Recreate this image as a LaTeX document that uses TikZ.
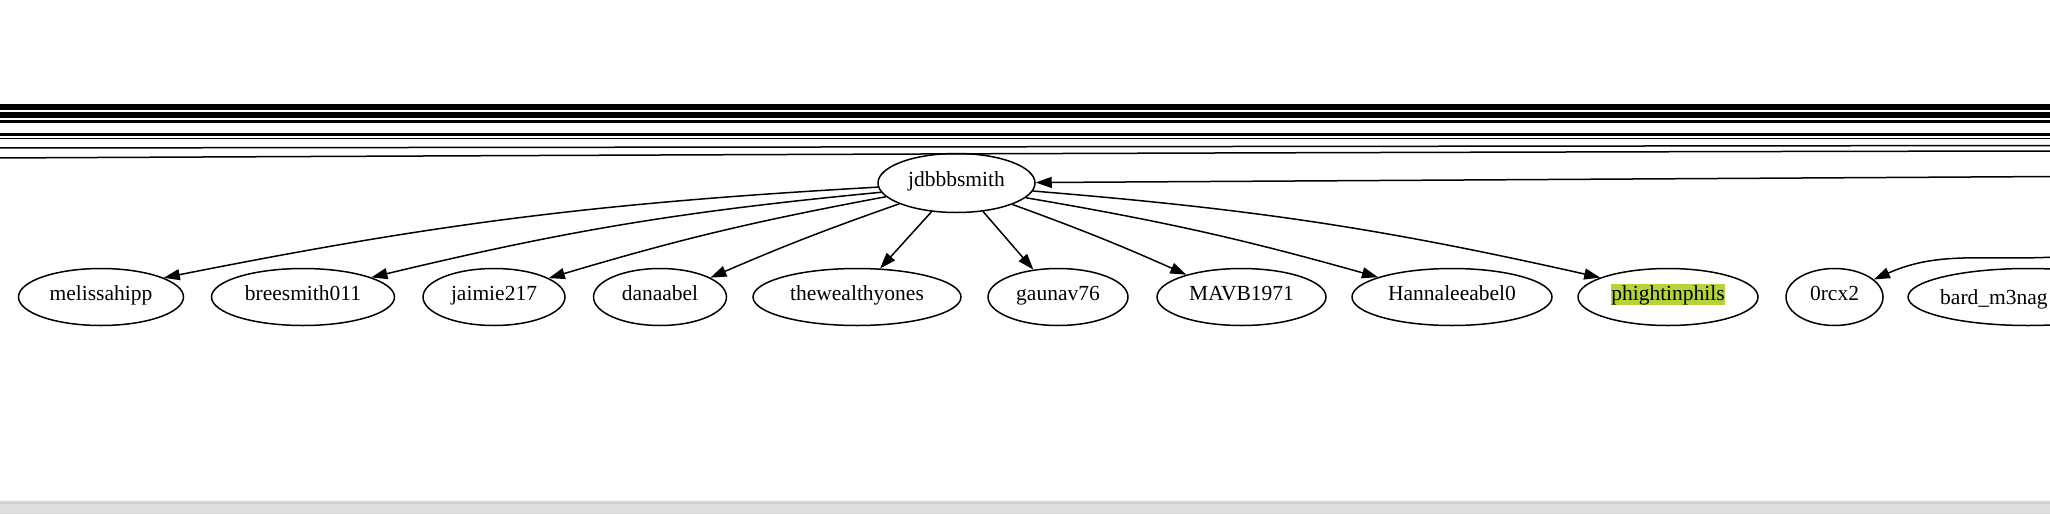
\documentclass[tikz,border=0pt]{standalone}
\usepackage{fontspec}
\setmainfont{Liberation Serif}
\usetikzlibrary{shapes.geometric,arrows.meta}
\definecolor{hlgreen}{RGB}{180,212,56}
\definecolor{barfill}{RGB}{222,222,222}
\definecolor{barline}{RGB}{205,205,205}
\definecolor{barlight}{RGB}{236,236,236}
\newcommand\hlbox[1]{{\setlength{\fboxsep}{0pt}\colorbox{hlgreen}{\rule[-0.18em]{0pt}{0.94em}#1}}}
\begin{document}
\begin{tikzpicture}[x=1pt,y=1pt,
  gfont/.style={font=\fontsize{21.5}{25}\selectfont},
  gnode/.style={ellipse, draw, line width=1.5pt, inner sep=0pt, minimum height=57pt, gfont, text height=0.9em, text depth=0.22em},
  edge/.style={line width=1.5pt, -{Triangle[length=16pt,width=11pt]}},
  thru/.style={line width=1.5pt},
]
\useasboundingbox (0,-514) rectangle (2050,0);
\fill[white] (0,-514) rectangle (2050,0);

% edges passing through from nodes outside the view
\foreach \yy in {105,106.5,108,109.5,112.8,114.3,115.8,117.3,120.5,122,134,135.5,138.5}{
  \draw[thru] (-5,-\yy) -- (2055,-\yy);
}
\coordinate (l1) at (-5,-148);
\coordinate (r1) at (2055,-145.5);
\draw[thru] (l1) -- (r1);
\coordinate (l2) at (-5,-158);
\coordinate (r2) at (2055,-151);
\draw[thru] (l2) .. controls (700,-154.5) and (1400,-152) .. (r2);

% nodes
\node[gnode, minimum width=157pt, minimum height=59pt] (jd) at (956.5,-183) {jdbbbsmith};
\node[gnode, minimum width=165pt] (mel) at (101,-297) {melissahipp};
\node[gnode, minimum width=183pt] (bree) at (303,-297) {breesmith011};
\node[gnode, minimum width=142pt] (jai) at (494,-297) {jaimie217};
\node[gnode, minimum width=133pt] (dana) at (660,-297) {danaabel};
\node[gnode, minimum width=208pt] (wealthy) at (857,-297) {thewealthyones};
\node[gnode, minimum width=140pt] (gau) at (1058,-297) {gaunav76};
\node[gnode, minimum width=169pt] (mavb) at (1241.5,-297) {MAVB1971};
\node[gnode, minimum width=200pt] (hann) at (1452,-297) {Hannaleeabel0};
\node[gnode, minimum width=180pt] (phi) at (1668,-297) {\hlbox{phightinphils}};
\node[gnode, minimum width=97pt] (rcx) at (1834.5,-297) {0rcx2};
\node[gnode, minimum width=240pt] (bard) at (2028,-297) {};
\node[gfont, anchor=base west, inner sep=0pt] (bardlbl) at (1940,-304.3) {bard\_m3nag};

% edges
\draw[edge] (jd.183) to[bend right=4] (mel.17);
\draw[edge] (jd.187.7) to[bend right=4] (bree.16);
\draw[edge] (jd.191.5) to[bend right=3] (jai.19.5);
\draw[edge] (jd.200) to[bend right=2] (dana.21.5);
\draw[edge] (jd.229) -- (wealthy.51);
\draw[edge] (jd.313) -- (gau.132);
\draw[edge] (jd.339.6) to[bend left=2] (mavb.158.7);
\draw[edge] (jd.348.8) to[bend left=3] (hann.165.8);
\draw[edge] (jd.354) to[bend left=4] (phi.164);

\coordinate (injd) at (2055,-176.5);
\draw[edge] (injd) -- (jd);
\coordinate (inrcx) at (2055,-257);
\draw[edge] (inrcx) to[out=183, in=24] (rcx);

% bottom bar
\fill[barfill] (0,-514) rectangle (2050,-501);
\draw[barlight, line width=1pt] (0,-500.5) -- (2050,-500.5);
\draw[barline, line width=2pt] (0,-502.5) -- (2050,-502.5);
\end{tikzpicture}
\end{document}
